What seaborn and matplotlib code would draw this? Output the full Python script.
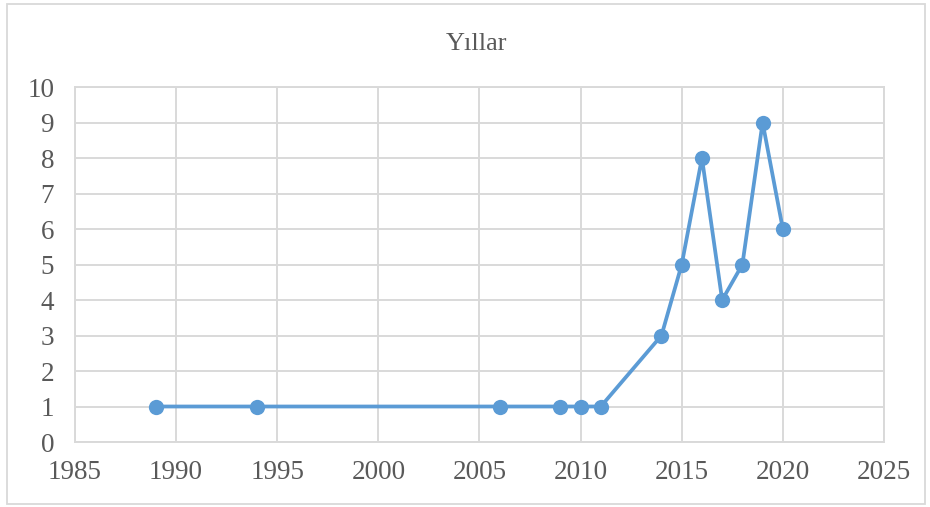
"""Yıllar - yearly counts line chart."""

import matplotlib.pyplot as plt
import pandas as pd
import seaborn as sns
from matplotlib.patches import Rectangle

years = [1989, 1994, 2006, 2009, 2010, 2011, 2014, 2015, 2016, 2017, 2018, 2019, 2020]
counts = [1, 1, 1, 1, 1, 1, 3, 5, 8, 4, 5, 9, 6]
x_ticks = [1985, 1990, 1995, 2000, 2005, 2010, 2015, 2020, 2025]
y_ticks = list(range(0, 11))
title = "Yıllar"

LINE_COLOR = "#5B9BD5"
GRID_COLOR = "#D9D9D9"
TEXT_COLOR = "#595959"


def main() -> None:
    sns.set_style("white")
    plt.rcParams["font.family"] = ["Liberation Serif", "DejaVu Serif"]

    df = pd.DataFrame({"year": years, "count": counts})

    fig = plt.figure(figsize=(9.3, 5.07), dpi=100)
    ax = fig.add_axes([0.0806, 0.1282, 0.8699, 0.7002])

    sns.lineplot(
        data=df,
        x="year",
        y="count",
        color=LINE_COLOR,
        linewidth=2.7,
        marker="o",
        markersize=11,
        markeredgewidth=0,
        ax=ax,
        zorder=3,
        clip_on=False,
    )

    ax.set_xlim(1985, 2025)
    ax.set_ylim(0, 10)
    ax.set_xticks(x_ticks)
    ax.set_yticks(y_ticks)
    ax.grid(True, color=GRID_COLOR, linewidth=1.4)
    ax.set_axisbelow(True)
    for spine in ax.spines.values():
        spine.set_color(GRID_COLOR)
        spine.set_linewidth(1.4)
    ax.tick_params(axis="both", length=0, labelsize=19.5, labelcolor=TEXT_COLOR)
    ax.tick_params(axis="y", pad=15)
    ax.tick_params(axis="x", pad=13)
    ax.set_xlabel("")
    ax.set_ylabel("")

    fig.text(0.512, 0.913, title, ha="center", va="center", fontsize=19, color=TEXT_COLOR)

    fig.patches.append(
        Rectangle(
            (0.008, 0.006), 0.987, 0.987,
            transform=fig.transFigure, fill=False,
            edgecolor=GRID_COLOR, linewidth=1.3,
        )
    )

    fig.savefig("out.png", dpi=100)


if __name__ == "__main__":
    main()
